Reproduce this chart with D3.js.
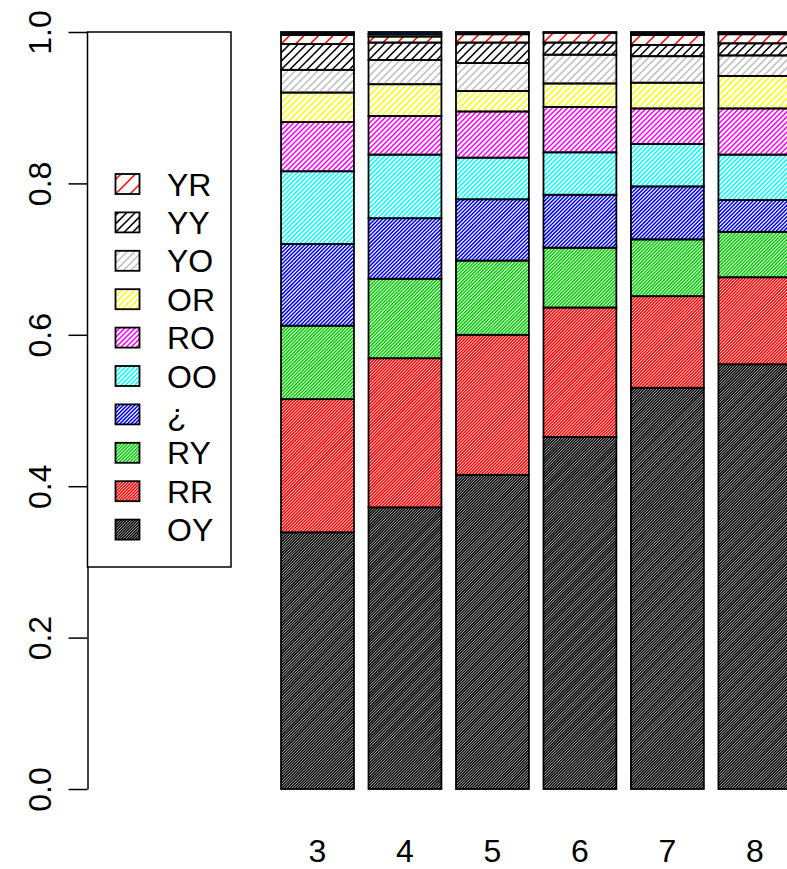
<!DOCTYPE html>
<html>
<head>
<meta charset="utf-8">
<script src="https://cdn.jsdelivr.net/npm/d3@7"></script>
<style>
  body { margin: 0; background: #fff; }
  svg { display: block; }
  text { font-family: "Liberation Sans", Arial, Helvetica, sans-serif; fill: #000; }
</style>
</head>
<body>
<svg id="chart" width="787" height="869"></svg>
<script>
// Groups along the x axis (bar slots 3..8)
const groups = ["3", "4", "5", "6", "7", "8"];
const groupSlot = [3, 4, 5, 6, 7, 8];

// Proportions per category, stacked from the bottom up
const valOY  = [0.339, 0.372, 0.415, 0.465, 0.530, 0.561];
const valRR  = [0.176, 0.197, 0.185, 0.171, 0.121, 0.115];
const valRY  = [0.097, 0.105, 0.098, 0.079, 0.075, 0.060];
const valInv = [0.108, 0.080, 0.081, 0.070, 0.070, 0.042];
const valOO  = [0.096, 0.084, 0.055, 0.056, 0.056, 0.060];
const valRO  = [0.065, 0.051, 0.061, 0.060, 0.047, 0.061];
const valOR  = [0.039, 0.042, 0.027, 0.031, 0.034, 0.043];
const valYO  = [0.030, 0.032, 0.037, 0.038, 0.035, 0.027];
const valYY  = [0.034, 0.023, 0.027, 0.016, 0.015, 0.016];
const valYR  = [0.012, 0.008, 0.011, 0.013, 0.013, 0.012];
// two small unlabelled remainders at the top of each bar
const valRest1 = [0.002, 0.003, 0.002, 0.001, 0.002, 0.002];
const valRest2 = [0.002, 0.003, 0.001, 0.000, 0.002, 0.001];

const seriesNames = ["OY", "RR", "RY", "\u00bf", "OO", "RO", "OR", "YO", "YY", "YR", "", ""];
const seriesValues = [valOY, valRR, valRY, valInv, valOO, valRO, valOR, valYO, valYY, valYR, valRest1, valRest2];

// Default palette colours, recycled past eight
const seriesColors = ["#000000", "#FF0000", "#00CD00", "#0000FF", "#00FFFF", "#FF00FF",
                      "#FFFF00", "#BEBEBE", "#000000", "#FF0000", "#00CD00", "#0000FF"];
// Horizontal distance between hatch lines (sparser towards the top)
const hatchGap = [2.8, 3.1, 3.4, 3.8, 4.6, 5.1, 6.5, 7.5, 8.5, 14.5, 2.8, 3.1];

const yTicks = [0, 0.2, 0.4, 0.6, 0.8, 1.0];

const svg = d3.select("#chart");

// Scales: bar slot k occupies [1.2k - 1, 1.2k] in user units
const x = d3.scaleLinear().domain([0, 10]).range([91.5, 91.5 + 729]);
const y = d3.scaleLinear().domain([0, 1]).range([789, 32]);

// Build stacked table
const table = groups.map((g, i) => {
  const row = { group: g, slot: groupSlot[i] };
  seriesValues.forEach((vals, s) => { row["s" + s] = vals[i]; });
  return row;
});
const keys = seriesValues.map((_, s) => "s" + s);
const stacked = d3.stack().keys(keys)(table);

const defs = svg.append("defs");

// Hatching: "/" lines clipped to a rectangle
function hatch(parent, id, x0, y0, x1, y1, gap, color, width) {
  defs.append("clipPath").attr("id", id)
    .append("rect").attr("x", x0).attr("y", y0).attr("width", x1 - x0).attr("height", y1 - y0);
  const g = parent.append("g").attr("clip-path", `url(#${id})`);
  const kStart = x0 + y1;             // line through bottom-left corner
  const lines = [];
  for (let k = kStart - gap * Math.ceil((kStart - (x0 + y0)) / gap); k <= x1 + y1 + gap; k += gap) {
    lines.push(k);
  }
  g.selectAll("line").data(lines).join("line")
    .attr("x1", k => x0 - 2).attr("y1", k => k - (x0 - 2))
    .attr("x2", k => x1 + 2).attr("y2", k => k - (x1 + 2))
    .attr("stroke", color).attr("stroke-width", width);
}

const hatchWidth = 1.5;

// Bars
const barsG = svg.append("g");
let clipId = 0;
stacked.forEach((layer, s) => {
  layer.forEach((d) => {
    const slot = d.data.slot;
    const x0 = x(1.2 * slot - 1), x1 = x(1.2 * slot);
    const yTop = y(d[1]), yBot = y(d[0]);
    if (yBot - yTop <= 0) return;
    hatch(barsG, "c" + (clipId++), x0, yTop, x1, yBot, hatchGap[s], seriesColors[s], hatchWidth);
    barsG.append("rect")
      .attr("x", x0).attr("y", yTop)
      .attr("width", x1 - x0).attr("height", yBot - yTop)
      .attr("fill", "none").attr("stroke", "#000").attr("stroke-width", 1.8);
  });
});

// Y axis
const axisX = 87.5;
const yAxis = svg.append("g")
  .attr("transform", `translate(${axisX},0)`)
  .call(d3.axisLeft(y).tickValues(yTicks).tickSize(19).tickSizeOuter(0).tickFormat(d3.format(".1f")));
yAxis.select(".domain").attr("stroke", "#000").attr("stroke-width", 1.5);
yAxis.selectAll(".tick line").attr("stroke", "#000").attr("stroke-width", 1.5);
yAxis.selectAll(".tick text")
  .attr("x", null).attr("dy", null)
  .attr("transform", "translate(-36.5,0) rotate(-90)")
  .attr("text-anchor", "middle")
  .attr("font-size", 32)
  .attr("font-family", "Liberation Sans, Arial, Helvetica, sans-serif")
  .attr("fill", "#000");

// X labels under bars
svg.append("g").selectAll("text").data(table).join("text")
  .attr("x", d => x(1.2 * d.slot - 0.5))
  .attr("y", 862)
  .attr("text-anchor", "middle")
  .attr("font-size", 32)
  .text(d => d.group);

// Legend
const legendG = svg.append("g");
legendG.append("rect")
  .attr("x", axisX).attr("y", 32).attr("width", 231 - axisX).attr("height", 567 - 32)
  .attr("fill", "#fff").attr("stroke", "#000").attr("stroke-width", 1.5);

const legendIdx = d3.range(10).reverse();  // top entry is the topmost labelled layer
legendIdx.forEach((s, i) => {
  const cy = 184 + i * 38.4;
  const bx0 = 115.5, bx1 = 139.5, by0 = cy - 10, by1 = cy + 10;
  hatch(legendG, "lg" + s, bx0, by0, bx1, by1, hatchGap[s], seriesColors[s], hatchWidth);
  legendG.append("rect")
    .attr("x", bx0).attr("y", by0).attr("width", bx1 - bx0).attr("height", by1 - by0)
    .attr("fill", "none").attr("stroke", "#000").attr("stroke-width", 1.8);
  legendG.append("text")
    .attr("x", 167).attr("y", cy + 11.5)
    .attr("font-size", 32)
    .text(seriesNames[s]);
});
</script>
</body>
</html>
